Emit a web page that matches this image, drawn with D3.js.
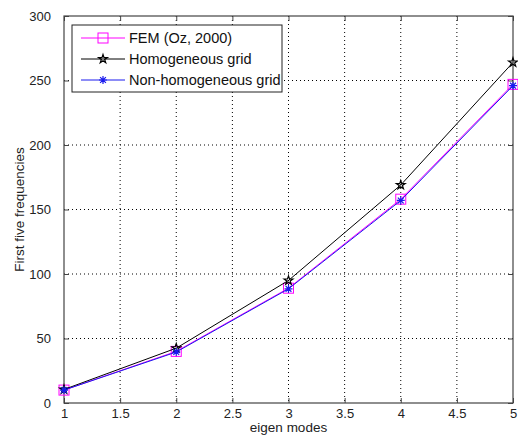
<!DOCTYPE html>
<html>
<head>
<meta charset="utf-8">
<script src="https://cdn.jsdelivr.net/npm/d3@7"></script>
<style>
  body { margin: 0; background: #fff; }
  svg { font-family: "Liberation Sans", Arial, sans-serif; }
</style>
</head>
<body>
<svg id="chart" width="518" height="444"></svg>
<script>
// values
const modes = [1, 2, 3, 4, 5];
const femOz = [10, 40, 89, 158, 247];
const homGrid = [10.5, 42.5, 95, 169, 264];
const nonHomGrid = [10, 39.5, 88.5, 157, 246];
const xTicks = [1, 1.5, 2, 2.5, 3, 3.5, 4, 4.5, 5];
const yTicks = [0, 50, 100, 150, 200, 250, 300];

const series = [
  {name: 'FEM (Oz, 2000)', values: femOz, color: '#ff00ff', marker: 'square'},
  {name: 'Homogeneous grid', values: homGrid, color: '#000', marker: 'star'},
  {name: 'Non-homogeneous grid', values: nonHomGrid, color: '#1a1aee', marker: 'asterisk'}
];

const L = 64, R = 513, T = 16, B = 403;
const svg = d3.select('#chart');
const x = d3.scaleLinear().domain([1, 5]).range([L, R]);
const y = d3.scaleLinear().domain([0, 300]).range([B, T]);

// dotted grid
const grid = svg.append('g');
grid.selectAll('.gx').data(xTicks.slice(1, -1)).join('line')
  .attr('x1', d => x(d)).attr('x2', d => x(d)).attr('y1', T).attr('y2', B)
  .attr('stroke', '#000').attr('stroke-width', 1).attr('stroke-dasharray', '1,3');
grid.selectAll('.gy').data(yTicks.slice(1, -1)).join('line')
  .attr('x1', L).attr('x2', R).attr('y1', d => y(d)).attr('y2', d => y(d))
  .attr('stroke', '#000').attr('stroke-width', 1).attr('stroke-dasharray', '1,3');

// axes (ticks pointing inward, MATLAB style)
const tickFmt = d3.format('');
function styleAxis(g) {
  g.select('.domain').remove();
  g.selectAll('line').attr('stroke', '#444');
  g.selectAll('text').attr('fill', '#222').style('font-size', '13px');
}
svg.append('g').attr('transform', `translate(0,${B})`)
  .call(d3.axisBottom(x).tickValues(xTicks).tickFormat(tickFmt).tickSizeInner(-5).tickSizeOuter(0).tickPadding(6))
  .call(styleAxis);
svg.append('g').attr('transform', `translate(${L},0)`)
  .call(d3.axisLeft(y).tickValues(yTicks).tickFormat(tickFmt).tickSizeInner(-5).tickSizeOuter(0).tickPadding(13))
  .call(styleAxis);
svg.append('g').attr('transform', `translate(0,${T})`)
  .call(d3.axisTop(x).tickValues(xTicks).tickFormat('').tickSizeInner(-5).tickSizeOuter(0))
  .call(styleAxis);
svg.append('g').attr('transform', `translate(${R},0)`)
  .call(d3.axisRight(y).tickValues(yTicks).tickFormat('').tickSizeInner(-5).tickSizeOuter(0))
  .call(styleAxis);

svg.append('rect').attr('x', L).attr('y', T).attr('width', R - L).attr('height', B - T)
  .attr('fill', 'none').attr('stroke', '#444').attr('stroke-width', 1.2);

// markers
function drawMarker(g, type, color) {
  if (type === 'square') {
    g.append('rect').attr('x', -5).attr('y', -5).attr('width', 10).attr('height', 10)
      .attr('fill', 'none').attr('stroke', color).attr('stroke-width', 1);
  } else if (type === 'star') {
    g.append('path').attr('d', d3.symbol(d3.symbolStar, 24)())
      .attr('fill', 'none').attr('stroke', color).attr('stroke-width', 1.2);
  } else {
    const r = 4, q = 2.9;
    g.append('path')
      .attr('d', `M${-r},0L${r},0M0,${-r}L0,${r}M${-q},${-q}L${q},${q}M${-q},${q}L${q},${-q}`)
      .attr('stroke', color).attr('stroke-width', 1.2);
  }
}

const line = d3.line().x((d, i) => x(modes[i])).y(d => y(d));
series.forEach(s => {
  svg.append('path').datum(s.values).attr('d', line)
    .attr('fill', 'none').attr('stroke', s.color).attr('stroke-width', 1);
  s.values.forEach((v, i) => {
    const g = svg.append('g').attr('transform', `translate(${x(modes[i])},${y(v)})`);
    drawMarker(g, s.marker, s.color);
  });
});

// legend
const lg = svg.append('g');
lg.append('rect').attr('x', 72).attr('y', 25).attr('width', 210).attr('height', 67)
  .attr('fill', '#fff').attr('stroke', '#222').attr('stroke-width', 1);
series.forEach((s, i) => {
  const yy = 38 + i * 21;
  lg.append('line').attr('x1', 81).attr('x2', 125).attr('y1', yy).attr('y2', yy)
    .attr('stroke', s.color).attr('stroke-width', 1);
  const g = lg.append('g').attr('transform', `translate(103,${yy})`);
  drawMarker(g, s.marker, s.color);
  lg.append('text').attr('x', 129).attr('y', yy + 5).text(s.name)
    .style('font-size', '14.5px').attr('fill', '#111');
});

// axis labels
svg.append('text').attr('x', (L + R) / 2).attr('y', 432).attr('text-anchor', 'middle')
  .style('font-size', '13.5px').attr('fill', '#222').text('eigen modes');
svg.append('text').attr('transform', `translate(24,${(T + B) / 2}) rotate(-90)`)
  .attr('text-anchor', 'middle').style('font-size', '13.5px').attr('fill', '#222')
  .text('First five frequencies');
</script>
</body>
</html>
